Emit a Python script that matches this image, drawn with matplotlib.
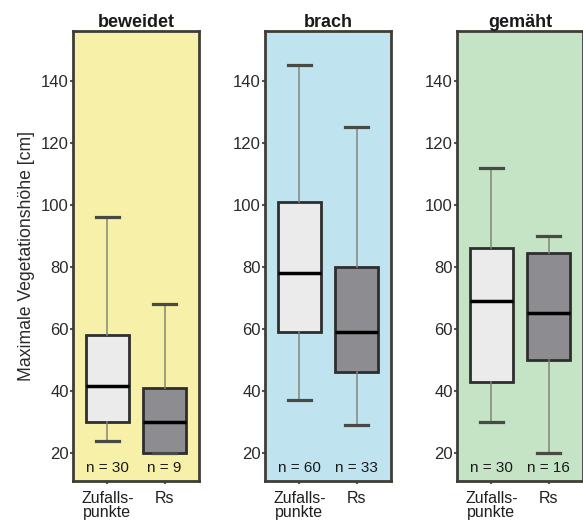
import matplotlib.pyplot as plt

# Panels (management type) and groups
panels = ["beweidet", "brach", "gemäht"]
groups = ["Zufalls-\npunkte", "Rs"]

# Box statistics: lower whisker, Q1, median, Q3, upper whisker
whislo = [[24, 20], [37, 29], [30, 20]]
q1 = [[30, 20], [59, 46], [43, 50]]
med = [[41.5, 30], [78, 59], [69, 65]]
q3 = [[58, 41], [101, 80], [86, 84.5]]
whishi = [[96, 68], [145, 125], [112, 90]]
n_obs = [[30, 9], [60, 33], [30, 16]]

yticks = [20, 40, 60, 80, 100, 120, 140]

panel_bg = ["#f6f0a8", "#bfe3ef", "#c5e3c5"]
box_fill = ["#ebebeb", "#8d8d91"]
frame_col = "#3e3d36"

plt.rcParams["font.family"] = ["Liberation Sans", "DejaVu Sans"]

fig = plt.figure(figsize=(5.83, 5.22), dpi=100)
lefts = [0.1252, 0.4545, 0.784]
W, B, H = 0.216, 0.0785, 0.862

for i, name in enumerate(panels):
    ax = fig.add_axes([lefts[i], B, W, H])
    ax.set_facecolor(panel_bg[i])
    stats = []
    for j in range(2):
        stats.append(dict(whislo=whislo[i][j], q1=q1[i][j], med=med[i][j],
                          q3=q3[i][j], whishi=whishi[i][j], fliers=[]))
    bp = ax.bxp(stats, positions=[1, 2], widths=0.76, patch_artist=True,
                showfliers=False,
                boxprops=dict(edgecolor="#2e2e2e", linewidth=2),
                medianprops=dict(color="black", linewidth=2.5),
                whiskerprops=dict(color="#7f8078", linewidth=1.4, alpha=0.75),
                capprops=dict(color="#4a4a44", linewidth=2.3),
                capwidths=0.4)
    for patch, fc in zip(bp["boxes"], box_fill):
        patch.set_facecolor(fc)

    ax.set_xlim(0.4, 2.6)
    ax.set_ylim(11, 156)
    ax.set_yticks(yticks)
    ax.set_xticks([1, 2])
    ax.set_xticklabels(groups, fontsize=11.5, linespacing=0.95)
    ax.tick_params(axis="y", labelsize=12, length=2, width=1.5,
                   color="#555555", labelcolor="#2a2a2a", pad=1)
    ax.tick_params(axis="x", length=2, width=1.5, color="#555555",
                   labelcolor="#1e1e1e", pad=5)
    for s in ax.spines.values():
        s.set_color(frame_col)
        s.set_linewidth(2)
    ax.set_title(name, fontsize=13, fontweight="bold", pad=3, color="#1a1a1a")

    trans = ax.get_xaxis_transform()
    for j in range(2):
        ax.text(j + 1, 0.014, f"n = {n_obs[i][j]}", transform=trans,
                ha="center", va="bottom", fontsize=11, color="#1a1a1a")

    if i == 0:
        ax.set_ylabel("Maximale Vegetationshöhe [cm]", fontsize=12.7,
                      color="#2a2a2a", labelpad=4)

fig.savefig("out.png", dpi=100)
